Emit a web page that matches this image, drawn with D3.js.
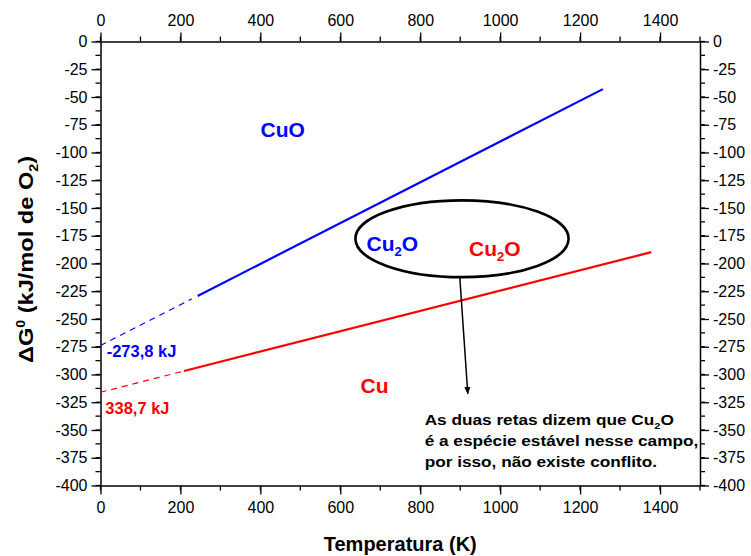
<!DOCTYPE html>
<html>
<head>
<meta charset="utf-8">
<script src="https://cdn.jsdelivr.net/npm/d3@7"></script>
<style>
  html, body { margin: 0; padding: 0; background: #fff; }
  svg { display: block; font-family: "Liberation Sans", Arial, sans-serif; }
</style>
</head>
<body>
<svg id="chart" width="751" height="556"></svg>
<script>
// Ellingham-type lines for the Cu / Cu2O / CuO system
const tempTicks = [0, 200, 400, 600, 800, 1000, 1200, 1400];
const gTicks = [0, -25, -50, -75, -100, -125, -150, -175, -200, -225, -250, -275, -300, -325, -350, -375, -400];

// CuO / Cu2O equilibrium (blue)
const cuoDashedT = [0, 228];
const cuoDashedG = [-273.8, -231.9];
const cuoSolidT = [243, 1257];
const cuoSolidG = [-229.2, -42.9];

// Cu2O / Cu equilibrium (red)
const cuDashedT = [0, 204];
const cuDashedG = [-316.0, -297.3];
const cuSolidT = [209, 1378];
const cuSolidG = [-296.8, -189.8];

const svg = d3.select("#chart");
const plotLeft = 100.5, plotRight = 700, plotTop = 41.5, plotBottom = 485.5;

const x = d3.scaleLinear().domain([0, 1500]).range([plotLeft, plotRight]);
const y = d3.scaleLinear().domain([0, -400]).range([plotTop, plotBottom]);

const axisFont = 16;

function styleAxis(g) {
  g.selectAll("path.domain").attr("stroke", "#000").attr("stroke-width", 1.5);
  g.selectAll(".tick line").attr("stroke", "#000").attr("stroke-width", 1.3);
  g.selectAll(".tick text").attr("fill", "#000").attr("font-size", axisFont)
    .attr("font-family", "Liberation Sans, Arial, sans-serif");
}

const xMinor = d3.range(0, 1501, 100);
const yMinor = d3.range(0, -401, -12.5);

function addMinor(g, vals, scale, orient) {
  g.selectAll("line.minor").data(vals).enter().append("line")
    .attr("class", "minor").attr("stroke", "#000").attr("stroke-width", 1.3)
    .each(function (d) {
      const s = d3.select(this);
      const p = scale(d);
      if (orient === "bottom") s.attr("x1", p).attr("x2", p).attr("y1", 0).attr("y2", 5);
      if (orient === "top") s.attr("x1", p).attr("x2", p).attr("y1", 0).attr("y2", -5);
      if (orient === "left") s.attr("y1", p).attr("y2", p).attr("x1", 0).attr("x2", -5);
      if (orient === "right") s.attr("y1", p).attr("y2", p).attr("x1", 0).attr("x2", 5);
    });
}

const gB = svg.append("g").attr("transform", `translate(0,${plotBottom})`)
  .call(d3.axisBottom(x).tickValues(tempTicks).tickSize(9).tickSizeOuter(0).tickPadding(7).tickFormat(d3.format("d")));
styleAxis(gB); addMinor(gB, xMinor, x, "bottom");

const gT = svg.append("g").attr("transform", `translate(0,${plotTop})`)
  .call(d3.axisTop(x).tickValues(tempTicks).tickSize(9).tickSizeOuter(0).tickPadding(7).tickFormat(d3.format("d")));
styleAxis(gT); addMinor(gT, xMinor, x, "top");

const gL = svg.append("g").attr("transform", `translate(${plotLeft},0)`)
  .call(d3.axisLeft(y).tickValues(gTicks).tickSize(9).tickSizeOuter(0).tickPadding(4).tickFormat(d3.format("d")));
styleAxis(gL); addMinor(gL, yMinor, y, "left");

const gR = svg.append("g").attr("transform", `translate(${plotRight},0)`)
  .call(d3.axisRight(y).tickValues(gTicks).tickSize(9).tickSizeOuter(0).tickPadding(4).tickFormat(d3.format("d")));
styleAxis(gR); addMinor(gR, yMinor, y, "right");

// use a plain hyphen-minus for negative labels
svg.selectAll(".tick text").text(function () { return d3.select(this).text().replace("\u2212", "-"); });

// lines
const line = d3.line().x(d => x(d[0])).y(d => y(d[1]));
function drawSeries(ts, gs, color, width, dash) {
  const pts = ts.map((t, i) => [t, gs[i]]);
  svg.append("path").datum(pts).attr("d", line)
    .attr("fill", "none").attr("stroke", color).attr("stroke-width", width)
    .attr("stroke-dasharray", dash || null);
}
drawSeries(cuoDashedT, cuoDashedG, "#0000ff", 1.2, "6,5");
drawSeries(cuoSolidT, cuoSolidG, "#0000ff", 2.2);
drawSeries(cuDashedT, cuDashedG, "#ff0000", 1.2, "6,5");
drawSeries(cuSolidT, cuSolidG, "#ff0000", 2.2);

// stability-field labels
function formula(parts, tx, ty, color, size) {
  const t = svg.append("text").attr("x", x(tx)).attr("y", y(ty))
    .attr("fill", color).attr("font-weight", "bold").attr("font-size", size);
  parts.forEach(p => {
    const s = t.append("tspan").text(p.text);
    if (p.sub) s.attr("font-size", size * 0.62).attr("dy", size * 0.28);
    if (p.after) s.attr("dy", -size * 0.28);
  });
  return t;
}
formula([{ text: "CuO" }], 400.5, -86.2, "#0000ff", 21);
formula([{ text: "Cu" }, { text: "2", sub: true }, { text: "O", after: true }], 665.5, -188.3, "#0000ff", 21);
formula([{ text: "Cu" }, { text: "2", sub: true }, { text: "O", after: true }], 922, -192.8, "#ff0000", 21);
formula([{ text: "Cu" }], 650.5, -316.5, "#ff0000", 21);

svg.append("text").attr("x", x(15.5)).attr("y", y(-284.6)).attr("fill", "#0000ff")
  .attr("font-weight", "bold").attr("font-size", 16.5).text("-273,8 kJ");
svg.append("text").attr("x", x(12)).attr("y", y(-335.7)).attr("fill", "#ff0000")
  .attr("font-weight", "bold").attr("font-size", 16.5).text("338,7 kJ");

// ellipse around the two Cu2O labels
svg.append("ellipse")
  .attr("cx", x(904.5)).attr("cy", y(-177.7))
  .attr("rx", x(904.5 + 266.7) - x(904.5)).attr("ry", y(-177.7 - 34.6) - y(-177.7))
  .attr("fill", "none").attr("stroke", "#000").attr("stroke-width", 2.6);

// arrow to the note
svg.append("defs").append("marker").attr("id", "head")
  .attr("viewBox", "0 0 10 10").attr("refX", 9).attr("refY", 5)
  .attr("markerWidth", 5).attr("markerHeight", 6).attr("orient", "auto")
  .append("path").attr("d", "M0,1 L10,5 L0,9 Z").attr("fill", "#000");
svg.append("line")
  .attr("x1", x(899)).attr("y1", y(-212.5)).attr("x2", x(919)).attr("y2", y(-317.4))
  .attr("stroke", "#000").attr("stroke-width", 1.5).attr("marker-end", "url(#head)");

// note, set slightly wide
const note = svg.append("text").attr("fill", "#000").attr("font-weight", "bold").attr("font-size", 14)
  .attr("transform", `translate(${x(811)},0) scale(1.23,1)`);
note.append("tspan").attr("x", 0).attr("y", y(-345.4)).text("As duas retas dizem que Cu");
note.append("tspan").attr("font-size", 9).attr("dy", 4).text("2");
note.append("tspan").attr("dy", -4).text("O");
note.append("tspan").attr("x", 0).attr("y", y(-364.3)).text("é a espécie estável nesse campo,");
note.append("tspan").attr("x", 0).attr("y", y(-383.3)).text("por isso, não existe conflito.");

// axis titles
svg.append("text").attr("x", (plotLeft + plotRight) / 2).attr("y", 551).attr("text-anchor", "middle")
  .attr("font-weight", "bold").attr("font-size", 20).text("Temperatura (K)");

const yt = svg.append("text")
  .attr("transform", `translate(33,${(plotTop + plotBottom) / 2 - 4}) rotate(-90) scale(1.18,1)`)
  .attr("text-anchor", "middle").attr("font-weight", "bold").attr("font-size", 20);
yt.append("tspan").text("ΔG");
yt.append("tspan").attr("font-size", 12).attr("dy", -8).text("0");
yt.append("tspan").attr("dy", 8).text(" (kJ/mol de O");
yt.append("tspan").attr("font-size", 12).attr("dy", 5).text("2");
yt.append("tspan").attr("dy", -5).text(")");
</script>
</body>
</html>
